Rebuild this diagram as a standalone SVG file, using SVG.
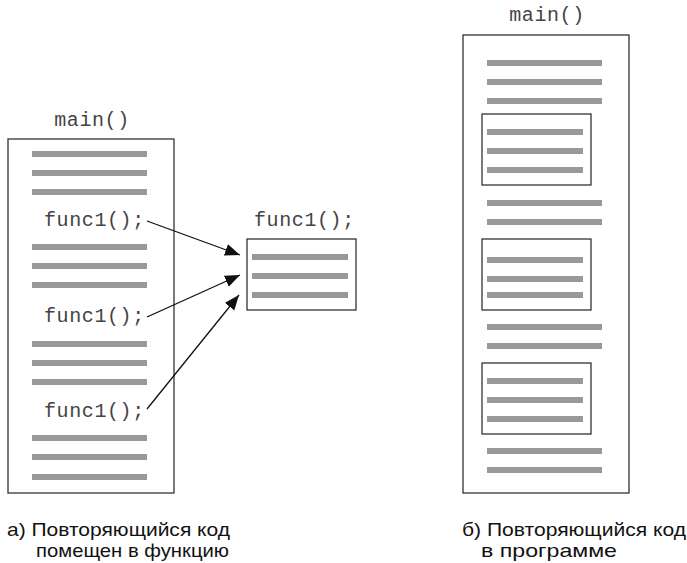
<svg xmlns="http://www.w3.org/2000/svg" width="687" height="563" viewBox="0 0 687 563">
<defs>
<style>
.box{fill:#fff;stroke:#333;stroke-width:1.3}
.bar{fill:#999}
.code{font-family:"Liberation Mono","Courier New",monospace;font-size:20px;fill:#444;letter-spacing:0.6px}
.cap{font-family:"Liberation Sans",Arial,sans-serif;font-size:19px;fill:#111}
.conn{stroke:#111;stroke-width:1.3;fill:none}
</style>
<marker id="ah" markerUnits="userSpaceOnUse" markerWidth="16" markerHeight="14" refX="15" refY="6" orient="auto">
<path d="M0,0 L15,6 L0,12 Z" fill="#111"/>
</marker>
</defs>
<g id="mainA">
<text class="code" x="92" y="126" text-anchor="middle">main()</text>
<rect class="box" x="8" y="139" width="166" height="354"/>
<rect class="bar" x="32" y="151" width="115" height="6"/>
<rect class="bar" x="32" y="170" width="115" height="6"/>
<rect class="bar" x="32" y="189" width="115" height="6"/>
<text class="code" x="44" y="226">func1();</text>
<rect class="bar" x="32" y="244" width="115" height="6"/>
<rect class="bar" x="32" y="263" width="115" height="6"/>
<rect class="bar" x="32" y="282" width="115" height="6"/>
<text class="code" x="44" y="322">func1();</text>
<rect class="bar" x="32" y="341" width="115" height="6"/>
<rect class="bar" x="32" y="360" width="115" height="6"/>
<rect class="bar" x="32" y="379" width="115" height="6"/>
<text class="code" x="44" y="417">func1();</text>
<rect class="bar" x="32" y="435" width="115" height="6"/>
<rect class="bar" x="32" y="454" width="115" height="6"/>
<rect class="bar" x="32" y="474" width="115" height="6"/>
</g>
<g id="func1">
<text class="code" x="254" y="226">func1();</text>
<rect class="box" x="247" y="239" width="109" height="71"/>
<rect class="bar" x="252" y="254" width="96" height="6"/>
<rect class="bar" x="252" y="273" width="96" height="6"/>
<rect class="bar" x="252" y="292" width="96" height="6"/>
</g>
<g id="connectors">
<line class="conn" x1="147" y1="221" x2="240" y2="255" marker-end="url(#ah)"/>
<line class="conn" x1="147" y1="317" x2="240" y2="275" marker-end="url(#ah)"/>
<line class="conn" x1="147" y1="409" x2="239" y2="295" marker-end="url(#ah)"/>
</g>
<g id="mainB">
<text class="code" x="547" y="21" text-anchor="middle">main()</text>
<rect class="box" x="463" y="35" width="166" height="458"/>
<rect class="bar" x="487" y="60" width="115" height="6"/>
<rect class="bar" x="487" y="79" width="115" height="6"/>
<rect class="bar" x="487" y="98" width="115" height="6"/>
<rect class="box" x="482" y="114" width="109" height="71"/>
<rect class="bar" x="487" y="129" width="96" height="6"/>
<rect class="bar" x="487" y="148" width="96" height="6"/>
<rect class="bar" x="487" y="167" width="96" height="6"/>
<rect class="bar" x="487" y="200" width="115" height="6"/>
<rect class="bar" x="487" y="219" width="115" height="6"/>
<rect class="box" x="482" y="239" width="109" height="71"/>
<rect class="bar" x="487" y="257" width="96" height="6"/>
<rect class="bar" x="487" y="276" width="96" height="6"/>
<rect class="bar" x="487" y="292" width="96" height="6"/>
<rect class="bar" x="487" y="324" width="115" height="6"/>
<rect class="bar" x="487" y="343" width="115" height="6"/>
<rect class="box" x="482" y="363" width="109" height="71"/>
<rect class="bar" x="487" y="378" width="96" height="6"/>
<rect class="bar" x="487" y="397" width="96" height="6"/>
<rect class="bar" x="487" y="416" width="96" height="6"/>
<rect class="bar" x="487" y="448" width="115" height="6"/>
<rect class="bar" x="487" y="467" width="115" height="6"/>
</g>
<g id="captions">
<text class="cap" x="7" y="536" textLength="223" lengthAdjust="spacingAndGlyphs">а) Повторяющийся код</text>
<text class="cap" x="36" y="557" textLength="193" lengthAdjust="spacingAndGlyphs">помещен в функцию</text>
<text class="cap" x="462" y="536" textLength="224" lengthAdjust="spacingAndGlyphs">б) Повторяющийся код</text>
<text class="cap" x="481" y="557" textLength="136" lengthAdjust="spacingAndGlyphs">в программе</text>
</g>
</svg>
